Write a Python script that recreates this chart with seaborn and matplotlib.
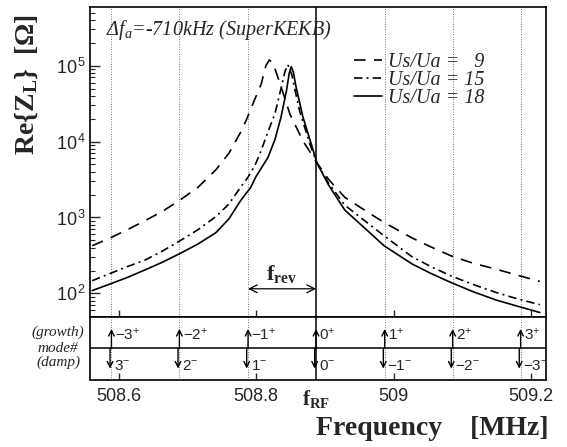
import matplotlib
matplotlib.use("Agg")
import matplotlib.pyplot as plt
from matplotlib import transforms
from matplotlib.ticker import LogLocator, NullFormatter
import seaborn as sns

# Us/Ua = 9 (dashed)
freq_9 = [508.561, 508.587, 508.612, 508.638, 508.663, 508.689, 508.715, 508.741,
          508.760, 508.777, 508.785, 508.797, 508.807, 508.814, 508.819, 508.824,
          508.827, 508.834, 508.849, 508.868, 508.888, 508.905, 508.929, 508.959,
          508.986, 509.027, 509.055, 509.083, 509.115, 509.149, 509.180, 509.213]
z_9 = [425, 537, 690, 908, 1200, 1700, 2500, 4230,
       7000, 13200, 18800, 34700, 57000, 100000, 119000, 108000,
       92000, 60000, 23000, 10200, 5300, 3200, 1840, 1230,
       860, 537, 407, 314, 251, 209, 174, 144]

# Us/Ua = 15 (dash-dot)
freq_15 = [508.561, 508.587, 508.612, 508.638, 508.663, 508.689, 508.715, 508.741,
           508.760, 508.777, 508.788, 508.799, 508.807, 508.817, 508.827, 508.836,
           508.842, 508.846, 508.852, 508.857, 508.863, 508.878, 508.888, 508.905,
           508.929, 508.959, 508.986, 509.027, 509.055, 509.083, 509.115, 509.149,
           509.180, 509.213]
z_15 = [147, 183, 225, 275, 360, 494, 690, 1025,
        1500, 2500, 3400, 5070, 7600, 13500, 23000, 50000,
        85000, 103000, 75000, 45000, 25500, 9300, 5300, 2850,
        1450, 890, 575, 303, 224, 171, 132, 103,
        85, 71]

# Us/Ua = 18 (solid)
freq_18 = [508.561, 508.587, 508.612, 508.638, 508.663, 508.689, 508.715, 508.741,
           508.760, 508.777, 508.792, 508.799, 508.817, 508.827, 508.836, 508.844,
           508.848, 508.851, 508.854, 508.858, 508.868, 508.883, 508.888, 508.905,
           508.929, 508.959, 508.986, 509.027, 509.055, 509.083, 509.115, 509.149,
           509.180, 509.213]
z_18 = [109, 133, 162, 204, 257, 336, 447, 630,
        955, 1660, 2500, 3390, 6200, 10500, 21000, 47000,
        80000, 97000, 82000, 52000, 21000, 7600, 5300, 2700,
        1250, 710, 425, 244, 182, 140, 106, 82,
        68, 56]

f_rf = 508.887
mode_freq = [508.589, 508.688, 508.788, 508.887, 508.987, 509.086, 509.185]
growth_labels = [r"$\mathrm{-3^{+}}$", r"$\mathrm{-2^{+}}$", r"$\mathrm{-1^{+}}$", r"$\mathrm{0^{+}}$",
                 r"$\mathrm{1^{+}}$", r"$\mathrm{2^{+}}$", r"$\mathrm{3^{+}}$"]
damp_labels = [r"$\mathrm{3^{-}}$", r"$\mathrm{2^{-}}$", r"$\mathrm{1^{-}}$", r"$\mathrm{0^{-}}$",
               r"$\mathrm{-1^{-}}$", r"$\mathrm{-2^{-}}$", r"$\mathrm{-3^{-}}$"]

x_ticks = [508.6, 508.8, 509.0, 509.2]
x_ticklabels = ["508.6", "508.8", "509", "509.2"]
y_ticks = [1e2, 1e3, 1e4, 1e5]
y_ticklabels = [r"$\mathrm{10^{\,2}}$", r"$\mathrm{10^{\,3}}$", r"$\mathrm{10^{\,4}}$", r"$\mathrm{10^{\,5}}$"]

sns.set_theme(style="ticks")
plt.rcParams.update({
    "font.family": ["Liberation Sans", "DejaVu Sans"],
    "mathtext.fontset": "custom",
    "mathtext.rm": "Liberation Sans",
    "mathtext.sf": "Liberation Sans",
    "mathtext.it": "Liberation Serif:italic",
    "mathtext.bf": "Liberation Serif:bold",
    "axes.linewidth": 1.2,
    "axes.edgecolor": "black",
})

fig = plt.figure(figsize=(5.67, 4.47), dpi=100)
ax = fig.add_axes([0.159, 0.291, 0.804, 0.693])
ax2 = fig.add_axes([0.159, 0.150, 0.804, 0.141], sharex=ax)

# mode lines through both panels
for f in mode_freq:
    for a in (ax, ax2):
        if f == f_rf:
            a.axvline(f, color="black", lw=1.1, zorder=1)
        else:
            a.axvline(f, color="#444444", lw=0.6, ls=(0, (1, 2)), zorder=1)

sns.lineplot(x=freq_9, y=z_9, ax=ax, color="black", lw=1.2, label="Us/Ua =   9", errorbar=None)
ax.lines[-1].set_dashes((7, 5))
sns.lineplot(x=freq_15, y=z_15, ax=ax, color="black", lw=1.2, label="Us/Ua = 15", errorbar=None)
ax.lines[-1].set_dashes((5, 2.5, 1.2, 2.5))
sns.lineplot(x=freq_18, y=z_18, ax=ax, color="black", lw=1.2, label="Us/Ua = 18", errorbar=None)

ax.set_yscale("log")
ax.set_xlim(508.558, 509.222)
ax.set_ylim(49, 5.9e5)
ax.set_yticks(y_ticks)
ax.set_yticklabels(y_ticklabels)
ax.yaxis.set_minor_locator(LogLocator(base=10, subs=range(2, 10)))
ax.yaxis.set_minor_formatter(NullFormatter())
ax.tick_params(axis="y", which="major", direction="in", length=7, width=1, labelsize=13, pad=3)
ax.tick_params(axis="y", which="minor", direction="in", length=3.5, width=0.8)
ax.tick_params(axis="x", direction="in", length=5, width=1, labelbottom=False)
ax.set_xlabel("")
ax.set_ylabel("")

leg = ax.legend(loc="upper left", bbox_to_anchor=(0.556, 0.885), frameon=False,
                handlelength=1.4, handletextpad=0.3, labelspacing=-0.05, borderpad=0,
                prop={"family": "Liberation Serif", "style": "italic", "size": 14.5})

ax.text(0.035, 0.925, "Δ$f_a$=-710kHz (SuperKEKB)", transform=ax.transAxes,
        family="Liberation Serif", style="italic", fontsize=14.5, va="center", ha="left")

# f_rev arrow
ax.annotate("", xy=(mode_freq[2], 115), xytext=(f_rf, 115),
            arrowprops=dict(arrowstyle="<->", lw=0.9, color="black", shrinkA=0, shrinkB=0,
                            mutation_scale=14))
ax.text((mode_freq[2] + f_rf) / 2, 128, r"$\mathbf{f_{rev}}$", fontsize=16, ha="center", va="bottom")

# lower panel: growth / damp modes
ax2.set_ylim(-1, 1)
ax2.axhline(0, color="black", lw=1.1)
for f, gl, dl in zip(mode_freq, growth_labels, damp_labels):
    ax2.annotate("", xy=(f, 0.62), xytext=(f, 0.0),
                 arrowprops=dict(arrowstyle="->", lw=1.0, color="black", shrinkA=0, shrinkB=0,
                                 mutation_scale=10))
    ax2.annotate("", xy=(f - 0.002, -0.64), xytext=(f - 0.002, 0.0),
                 arrowprops=dict(arrowstyle="->", lw=1.0, color="black", shrinkA=0, shrinkB=0,
                                 mutation_scale=10))
    ax2.text(f + 0.005, 0.45, gl, fontsize=11, ha="left", va="center")
    ax2.text(f + 0.004, -0.55, dl, fontsize=11, ha="left", va="center")

ax2.set_yticks([])
ax2.set_xticks(x_ticks)
ax2.set_xticklabels(x_ticklabels)
ax2.tick_params(axis="x", direction="in", length=5, width=1, labelsize=13, pad=6)

for txt, yy in [("(growth)", 0.5), ("mode#", 0.0), ("(damp)", -0.45)]:
    ax2.text(-0.07, (yy + 1) / 2, txt, transform=ax2.transAxes, family="Liberation Serif",
             style="italic", fontsize=11, ha="center", va="center")

trans = transforms.blended_transform_factory(ax2.transData, ax2.transAxes)
ax2.text(f_rf, -0.12, r"$\mathbf{f_{RF}}$", transform=trans, fontsize=15, ha="center", va="top")

fig.text(0.967, 0.042, "Frequency    [MHz]", family="Liberation Serif", weight="bold",
         fontsize=20, ha="right", va="center")
fig.text(0.048, 0.81, r"Re{$\mathbf{Z_L}$}  [Ω]", family="Liberation Serif", weight="bold",
         fontsize=20, rotation=90, ha="center", va="center")

fig.savefig("out.png", dpi=100)
